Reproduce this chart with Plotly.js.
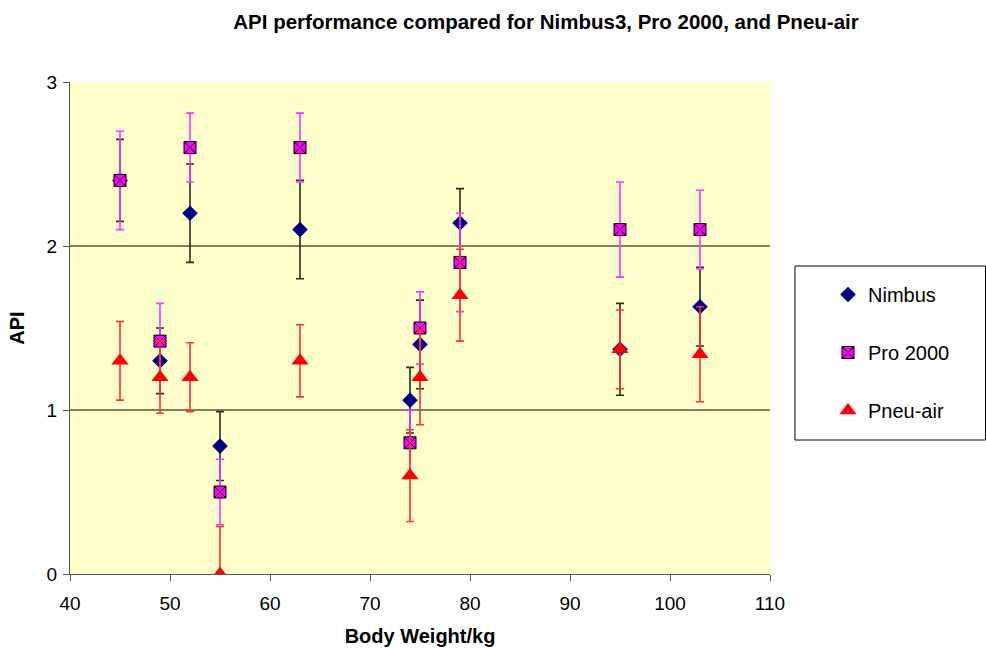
<!DOCTYPE html>
<html>
<head>
<meta charset="utf-8">
<script src="https://cdn.plot.ly/plotly-3.0.1.min.js"></script>
<style>html,body{margin:0;padding:0;background:#fff;}#chart{width:986px;height:655px;}</style>
</head>
<body>
<div id="chart"></div>
<script>
// Data
const weights = [45, 49, 52, 55, 63, 74, 75, 79, 95, 103];

const nimbusAPI = [2.40, 1.30, 2.20, 0.78, 2.10, 1.06, 1.40, 2.14, 1.37, 1.63];
const nimbusErr = [0.25, 0.20, 0.30, 0.21, 0.30, 0.20, 0.27, 0.21, 0.28, 0.24];

const proAPI = [2.40, 1.42, 2.60, 0.50, 2.60, 0.80, 1.50, 1.90, 2.10, 2.10];
const proErr = [0.30, 0.23, 0.21, 0.20, 0.21, 0.20, 0.22, 0.30, 0.29, 0.24];

const pneuAPI = [1.30, 1.20, 1.20, 0.00, 1.30, 0.60, 1.20, 1.70, 1.37, 1.34];
const pneuErr = [0.24, 0.22, 0.21, 0.29, 0.22, 0.28, 0.29, 0.28, 0.24, 0.29];

const seriesNames = ['Nimbus', 'Pro 2000', 'Pneu-air'];
const gridValues = [1, 2];

const FONT = 'Arial, "Liberation Sans", sans-serif';

function errBar(arr, color) {
  return {type: 'data', array: arr, symmetric: true, visible: true,
          color: color, thickness: 1.6, width: 4};
}

const traces = [
  {
    x: weights, y: nimbusAPI, name: seriesNames[0], type: 'scatter', mode: 'markers',
    marker: {symbol: 'diamond', size: 12, color: '#000080', line: {width: 0}},
    error_y: errBar(nimbusErr, '#2b2b1f'),
    legendgroup: 'a'
  },
  {
    x: weights, y: proAPI, name: seriesNames[1], type: 'scatter', mode: 'markers',
    marker: {symbol: 'square-x', size: 12, color: '#FF00FF', line: {width: 1, color: '#000000'}},
    error_y: errBar(proErr, '#FF33FF'),
    legendgroup: 'b'
  },
  {
    x: weights, y: pneuAPI, name: seriesNames[2], type: 'scatter', mode: 'markers',
    marker: {symbol: 'triangle-up', size: 15, color: '#FF0000', line: {width: 0}},
    error_y: errBar(pneuErr, '#FF3333'),
    legendgroup: 'c'
  }
];

const shapes = gridValues.map(v => ({
  type: 'line', xref: 'paper', x0: 0, x1: 1, yref: 'y', y0: v, y1: v,
  line: {color: '#000000', width: 1}, layer: 'below'
}));
// legend box
shapes.push({
  type: 'rect', xref: 'paper', yref: 'paper',
  x0: (795 - 70) / 700, x1: (985.5 - 70) / 700,
  y0: (574 - 440) / 492, y1: (574 - 266) / 492,
  line: {color: '#000000', width: 1}, fillcolor: '#FFFFFF', layer: 'below'
});

const layout = {
  width: 986, height: 655,
  margin: {l: 70, r: 216, t: 82, b: 81},
  paper_bgcolor: '#FFFFFF',
  plot_bgcolor: '#FFFFCC',
  font: {family: FONT, size: 19, color: '#000000'},
  title: {
    text: '<b>API performance compared for Nimbus3, Pro 2000, and Pneu-air</b>',
    font: {family: FONT, size: 20.5, color: '#000000'},
    xref: 'container', x: 546 / 986, xanchor: 'center',
    yref: 'container', y: 1 - 22 / 655, yanchor: 'middle'
  },
  xaxis: {
    range: [40, 110], dtick: 10, tick0: 40,
    showgrid: false, zeroline: false,
    showline: true, linecolor: '#555555', linewidth: 1,
    ticks: 'outside', ticklen: 6, tickcolor: '#555555', tickwidth: 1,
    ticklabelstandoff: 6,
    tickfont: {family: FONT, size: 19, color: '#000000'},
    title: {text: '<b>Body Weight/kg</b>', font: {family: FONT, size: 20, color: '#000000'}, standoff: 16}
  },
  yaxis: {
    range: [0, 3], dtick: 1, tick0: 0,
    showgrid: false, zeroline: false,
    showline: true, linecolor: '#555555', linewidth: 1,
    ticks: 'outside', ticklen: 6, tickcolor: '#555555', tickwidth: 1,
    ticklabelstandoff: 2,
    tickfont: {family: FONT, size: 19, color: '#000000'},
    title: {text: '<b>API</b>', font: {family: FONT, size: 20, color: '#000000'}, standoff: 16}
  },
  shapes: shapes,
  showlegend: true,
  legend: {
    x: (828 - 70) / 700, xanchor: 'left',
    y: (574 - 275) / 492, yanchor: 'top',
    bgcolor: 'rgba(0,0,0,0)', borderwidth: 0,
    font: {family: FONT, size: 20, color: '#000000'},
    tracegroupgap: 29, itemwidth: 30
  }
};

Plotly.newPlot('chart', traces, layout, {displayModeBar: false, staticPlot: true});
</script>
</body>
</html>
